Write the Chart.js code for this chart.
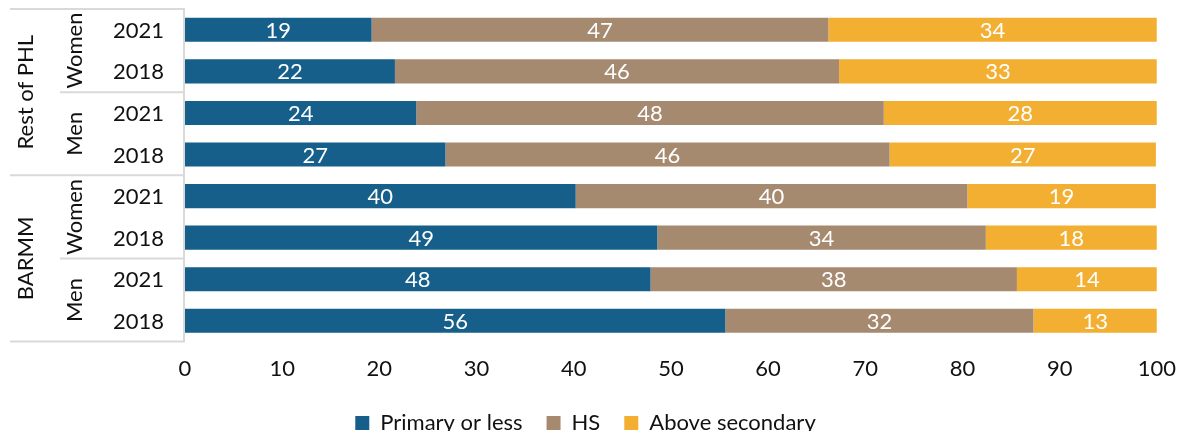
<!DOCTYPE html>
<html>
<head>
<meta charset="utf-8">
<script src="https://cdn.jsdelivr.net/npm/chart.js@4"></script>
<style>
  html, body { margin: 0; padding: 0; background: #fff; }
  #wrap { width: 1182px; height: 431px; position: relative; }
</style>
</head>
<body>
<div id="wrap"><canvas id="myChart"></canvas></div>
<script>
// rows top to bottom
const years = ['2021', '2018', '2021', '2018', '2021', '2018', '2021', '2018'];
const sexes = ['Women', 'Men', 'Women', 'Men'];
const regions = ['Rest of PHL', 'BARMM'];

const primaryOrLess = [19.2, 21.6, 23.8, 26.8, 40.2, 48.6, 47.9, 55.6];
const highSchool = [47.0, 45.7, 48.1, 45.7, 40.3, 33.8, 37.7, 31.7];
const aboveSecondary = [33.8, 32.7, 28.1, 27.4, 19.4, 17.6, 14.4, 12.7];

const xTicks = [0, 10, 20, 30, 40, 50, 60, 70, 80, 90, 100];

const FONT = 'Lato, "Open Sans", sans-serif';
const FSIZE = 22;
const GRID = '#d9d9d9';

// white value labels inside the bars
const barLabels = {
  id: 'barLabels',
  afterDatasetsDraw(chart) {
    const ctx = chart.ctx;
    ctx.save();
    ctx.font = FSIZE + 'px ' + FONT;
    ctx.fillStyle = '#fff';
    ctx.textAlign = 'center';
    ctx.textBaseline = 'middle';
    chart.data.datasets.forEach((ds, i) => {
      chart.getDatasetMeta(i).data.forEach((bar, j) => {
        const cx = (bar.x + bar.base) / 2;
        ctx.fillText(Math.round(ds.data[j]), cx, bar.y + 1);
      });
    });
    ctx.restore();
  }
};

// multi level category axis: years, sex and region labels + separator lines
const groupAxis = {
  id: 'groupAxis',
  afterDraw(chart) {
    const ctx = chart.ctx;
    const y = chart.scales.y;
    const area = chart.chartArea;
    const step = y.getPixelForValue(1) - y.getPixelForValue(0);
    const edge = (i) => y.getPixelForValue(i) - step / 2;
    const right = area.left - 1;

    ctx.save();
    ctx.strokeStyle = GRID;
    ctx.lineWidth = 2;
    const hline = (x0, yy) => {
      ctx.beginPath();
      ctx.moveTo(x0, yy);
      ctx.lineTo(right, yy);
      ctx.stroke();
    };
    hline(10, area.top);
    hline(60, edge(2));
    hline(10, edge(4));
    hline(60, edge(6));
    hline(10, area.bottom);
    ctx.beginPath();
    ctx.moveTo(right, area.top - 1);
    ctx.lineTo(right, area.bottom + 1);
    ctx.stroke();

    ctx.fillStyle = '#111';
    ctx.font = FSIZE + 'px ' + FONT;
    ctx.textBaseline = 'middle';
    ctx.textAlign = 'right';
    years.forEach((yr, i) => {
      ctx.fillText(yr, 164, y.getPixelForValue(i) + 1);
    });

    ctx.textAlign = 'center';
    const vtext = (txt, x, cy) => {
      ctx.save();
      ctx.translate(x, cy);
      ctx.rotate(-Math.PI / 2);
      ctx.fillText(txt, 0, 0);
      ctx.restore();
    };
    sexes.forEach((s, k) => {
      vtext(s, 75, (y.getPixelForValue(2 * k) + y.getPixelForValue(2 * k + 1)) / 2);
    });
    regions.forEach((r, k) => {
      vtext(r, 26, (edge(4 * k) + edge(4 * k + 4)) / 2);
    });
    ctx.restore();
  }
};

const ctx = document.getElementById('myChart').getContext('2d');
new Chart(ctx, {
  type: 'bar',
  data: {
    labels: years,
    datasets: [
      { label: 'Primary or less', data: primaryOrLess, backgroundColor: '#155f8a' },
      { label: 'HS', data: highSchool, backgroundColor: '#a68a70' },
      { label: 'Above secondary', data: aboveSecondary, backgroundColor: '#f2af32' }
    ]
  },
  options: {
    indexAxis: 'y',
    responsive: true,
    maintainAspectRatio: false,
    animation: false,
    barPercentage: 0.58,
    categoryPercentage: 1,
    layout: { padding: { top: 9, right: 11, bottom: -13, left: 0 } },
    scales: {
      x: {
        stacked: true,
        min: 0,
        max: 100,
        afterBuildTicks: (scale) => { scale.ticks = xTicks.map(v => ({ value: v })); },
        grid: { display: false },
        border: { display: false },
        ticks: { color: '#111', font: { family: FONT, size: FSIZE }, padding: 6 }
      },
      y: {
        stacked: true,
        afterFit: (scale) => { scale.width = 185; },
        grid: { display: false },
        border: { display: false },
        ticks: { display: false }
      }
    },
    plugins: {
      legend: {
        position: 'bottom',
        labels: {
          color: '#111',
          font: { family: FONT, size: FSIZE },
          boxWidth: 14,
          boxHeight: 14,
          padding: 24
        }
      },
      tooltip: { enabled: false }
    }
  },
  plugins: [barLabels, groupAxis]
});
</script>
</body>
</html>
